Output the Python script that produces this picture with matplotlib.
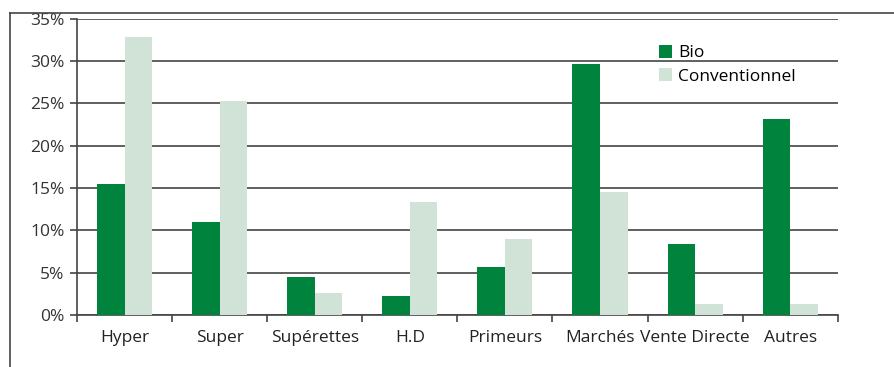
import numpy as np
import matplotlib.pyplot as plt
from matplotlib.lines import Line2D
from matplotlib.ticker import FuncFormatter

categories = ["Hyper", "Super", "Supérettes", "H.D", "Primeurs", "Marchés",
              "Vente Directe", "Autres"]
bio = [15.5, 11.0, 4.5, 2.25, 5.7, 29.7, 8.4, 23.2]
conventionnel = [32.8, 25.3, 2.6, 13.4, 9.0, 14.5, 1.3, 1.3]

plt.rcParams['font.family'] = ['Open Sans', 'DejaVu Sans']

fig = plt.figure(figsize=(8.95, 3.67), dpi=100)
ax = fig.add_axes([0.086, 0.1417, 0.850, 0.807])

x = np.arange(len(categories))
w = 0.29
ax.bar(x - w / 2, bio, w, color='#00843d', label='Bio', zorder=3)
ax.bar(x + w / 2, conventionnel, w, color='#d1e3d6', label='Conventionnel', zorder=3)

ax.set_xlim(-0.5, len(categories) - 0.5)
ax.set_ylim(0, 35)
ax.set_yticks(np.arange(0, 36, 5))
ax.yaxis.set_major_formatter(FuncFormatter(lambda v, p: f"{int(v)}%"))
ax.yaxis.grid(True, color='#444444', lw=1.2, zorder=0)
ax.tick_params(axis='y', length=5, width=1.2, color='#444444', labelsize=12.5,
               labelcolor='#333333', pad=4)

ax.set_xticks(x)
ax.set_xticklabels(categories)
ax.tick_params(axis='x', length=0, labelsize=12.5, labelcolor='#222222', pad=11)
ax.set_xticks(np.arange(-0.5, len(categories), 1), minor=True)
ax.tick_params(axis='x', which='minor', length=5, width=1.2, color='#444444')

for s in ['top', 'right']:
    ax.spines[s].set_visible(False)
for s in ['left', 'bottom']:
    ax.spines[s].set_color('#444444')
    ax.spines[s].set_linewidth(1.2)

ax.legend(loc='upper left', bbox_to_anchor=(0.745, 0.965), frameon=False,
          fontsize=12.5, handlelength=0.75, handleheight=0.75, handletextpad=0.35,
          labelspacing=0.4)

# outer frame
fig.add_artist(Line2D([0.0112, 1.0], [0.9646, 0.9646], color='#444444', lw=1.2))
fig.add_artist(Line2D([0.0112, 0.0112], [0.0, 0.9646], color='#444444', lw=1.2))

fig.savefig('out.png', dpi=100)
